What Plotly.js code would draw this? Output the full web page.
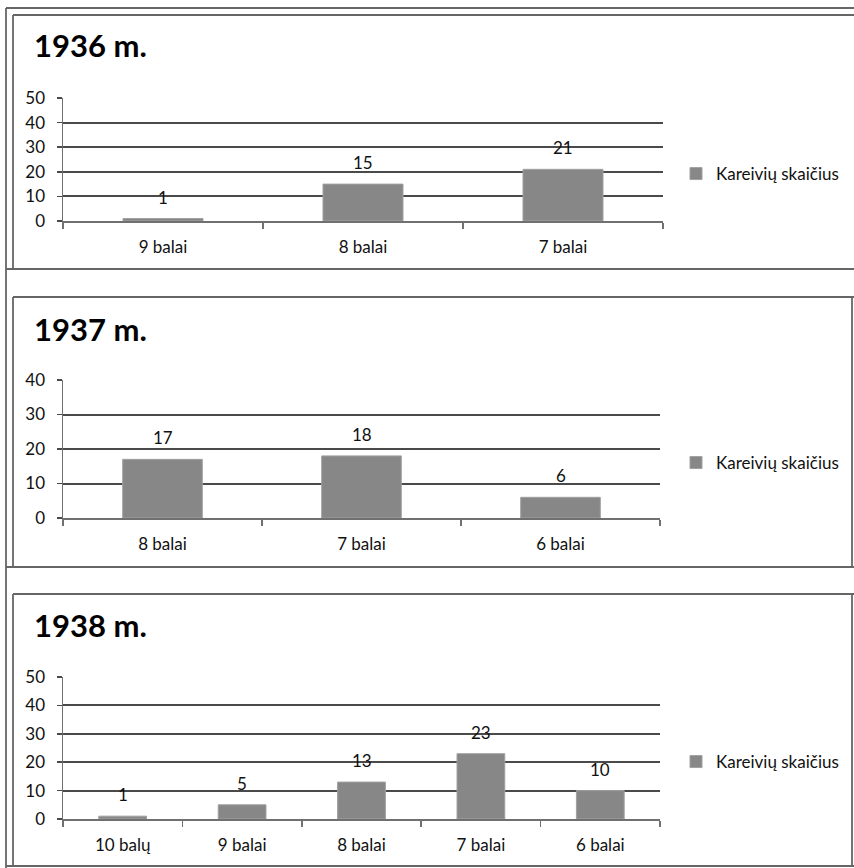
<!DOCTYPE html>
<html>
<head>
<meta charset="utf-8">
<script src="https://cdn.plot.ly/plotly-3.0.1.min.js"></script>
<style>
  html, body { margin: 0; padding: 0; background: #ffffff; }
  #chart { width: 854px; height: 868px; }
</style>
</head>
<body>
<div id="chart"></div>
<script>
// ---- Data ----
const seriesName = 'Kareivių skaičius';

const titles = ['1936 m.', '1937 m.', '1938 m.'];

const categories1936 = ['9 balai', '8 balai', '7 balai'];
const values1936 = [1, 15, 21];

const categories1937 = ['8 balai', '7 balai', '6 balai'];
const values1937 = [17, 18, 6];

const categories1938 = ['10 balų', '9 balai', '8 balai', '7 balai', '6 balai'];
const values1938 = [1, 5, 13, 23, 10];

const yMax = [50, 40, 50];

// ---- Layout helpers ----
const W = 854, H = 868;
const fx = px => px / W;
const fy = py => 1 - py / H;

const FONT = 'Lato, "Open Sans", "DejaVu Sans", sans-serif';
const TXT = '#111111';
const BAR = '#878787';
const GRID = '#4a4a4a';
const AXIS = '#707070';
const FRAME = '#666666';

// panel geometry (pixels)
const panels = [
  { cats: categories1936, vals: values1936, x0: 63, x1: 663, yTop: 98,  yBot: 221, titleTop: 24,  legendY: 174, boxTop: 15,  boxBot: 269, right: false },
  { cats: categories1937, vals: values1937, x0: 63, x1: 660, yTop: 380, yBot: 518, titleTop: 308, legendY: 463, boxTop: 297, boxBot: 567, right: true },
  { cats: categories1938, vals: values1938, x0: 63, x1: 660, yTop: 677, yBot: 819, titleTop: 604, legendY: 762, boxTop: 594, boxBot: 866, right: true }
];

const data = [];
const layout = {
  width: W, height: H,
  margin: { l: 0, r: 0, t: 0, b: 0 },
  paper_bgcolor: '#ffffff',
  plot_bgcolor: '#ffffff',
  font: { family: FONT, size: 17, color: TXT },
  bargap: 0.6,
  annotations: [],
  shapes: []
};

panels.forEach((p, i) => {
  const n = i + 1;
  const xa = n === 1 ? 'x' : 'x' + n;
  const ya = n === 1 ? 'y' : 'y' + n;
  const lg = n === 1 ? 'legend' : 'legend' + n;

  data.push({
    type: 'bar',
    x: p.cats,
    y: p.vals,
    name: seriesName,
    xaxis: xa, yaxis: ya,
    legend: lg,
    showlegend: true,
    marker: { color: BAR, line: { color: '#a0a0a0', width: 1 } },
    hoverinfo: 'skip'
  });

  layout[n === 1 ? 'xaxis' : 'xaxis' + n] = {
    domain: [fx(p.x0), fx(p.x1)],
    anchor: ya,
    type: 'category',
    tickson: 'boundaries',
    ticks: 'outside', ticklen: 6, tickwidth: 1.5, tickcolor: AXIS,
    showline: true, linecolor: AXIS, linewidth: 1.8,
    showgrid: false, zeroline: false,
    tickfont: { family: FONT, size: 17, color: TXT },
    ticklabelstandoff: 10,
    fixedrange: true
  };
  layout[n === 1 ? 'yaxis' : 'yaxis' + n] = {
    domain: [fy(p.yBot), fy(p.yTop)],
    anchor: xa,
    range: [0, yMax[i]],
    dtick: 10,
    showgrid: true, gridcolor: GRID, gridwidth: 2,
    showline: true, linecolor: AXIS, linewidth: 1.5,
    ticks: 'outside', ticklen: 5, tickwidth: 1.5, tickcolor: GRID,
    zeroline: false,
    tickfont: { family: FONT, size: 17, color: TXT },
    ticklabelstandoff: 8,
    fixedrange: true
  };
  layout[lg] = {
    x: fx(676), xanchor: 'left',
    y: fy(p.legendY), yanchor: 'middle',
    font: { family: FONT, size: 17, color: TXT },
    bgcolor: 'rgba(0,0,0,0)',
    borderwidth: 0
  };

  // panel title
  layout.annotations.push({
    xref: 'paper', yref: 'paper',
    x: fx(32), y: fy(p.titleTop),
    xanchor: 'left', yanchor: 'top',
    text: '<b>' + titles[i] + '</b>',
    showarrow: false,
    font: { family: FONT, size: 31, color: '#000000' }
  });

  // value labels
  p.cats.forEach((c, k) => {
    layout.annotations.push({
      xref: xa, yref: ya,
      x: c, y: p.vals[k],
      xanchor: 'center', yanchor: 'bottom',
      yshift: 9,
      text: String(p.vals[k]),
      showarrow: false,
      font: { family: FONT, size: 17, color: TXT }
    });
  });

  // panel frame
  const ln = { color: FRAME, width: 1.8 };
  layout.shapes.push(
    { type: 'line', xref: 'paper', yref: 'paper', x0: fx(13), x1: 1, y0: fy(p.boxTop), y1: fy(p.boxTop), line: ln },
    { type: 'line', xref: 'paper', yref: 'paper', x0: fx(13), x1: fx(13), y0: fy(p.boxTop), y1: fy(p.boxBot), line: ln },
    { type: 'line', xref: 'paper', yref: 'paper', x0: fx(6), x1: 1, y0: fy(p.boxBot), y1: fy(p.boxBot), line: ln }
  );
  if (p.right) {
    layout.shapes.push({ type: 'line', xref: 'paper', yref: 'paper', x0: fx(852), x1: fx(852), y0: fy(p.boxTop), y1: fy(p.boxBot), line: ln });
  }
});

// outer frame
layout.shapes.push(
  { type: 'line', xref: 'paper', yref: 'paper', x0: fx(6), x1: 1, y0: fy(8), y1: fy(8), line: { color: FRAME, width: 1.8 } },
  { type: 'line', xref: 'paper', yref: 'paper', x0: fx(6), x1: fx(6), y0: fy(8), y1: 0, line: { color: FRAME, width: 1.8 } }
);

Plotly.newPlot('chart', data, layout, { displayModeBar: false, staticPlot: true });
</script>
</body>
</html>
